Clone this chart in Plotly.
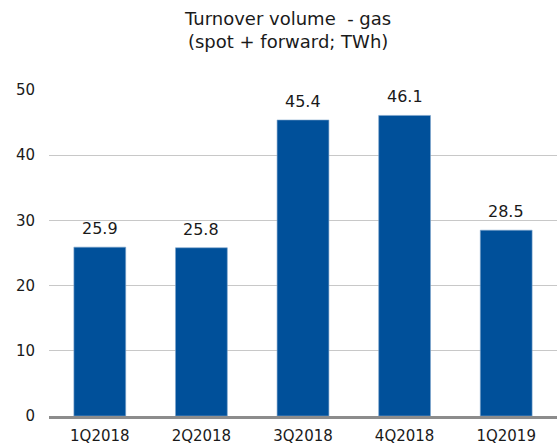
import plotly.graph_objects as go

quarters = ["1Q2018", "2Q2018", "3Q2018", "4Q2018", "1Q2019"]
volume_twh = [25.9, 25.8, 45.4, 46.1, 28.5]
value_labels = ["25.9", "25.8", "45.4", "46.1", "28.5"]

FONT = "DejaVu Sans, Verdana, sans-serif"

fig = go.Figure()
fig.add_trace(go.Bar(
    x=quarters, y=volume_twh,
    marker=dict(color="#00509a", line=dict(color="#7fa6cc", width=0.6)),
    hoverinfo="skip",
))

# value labels above the bars
for q, v, lbl in zip(quarters, volume_twh, value_labels):
    fig.add_annotation(x=q, y=v, text=lbl, showarrow=False,
                       yanchor="bottom", yshift=7,
                       font=dict(family=FONT, size=16, color="#1a1a1a"))

# two-line title, placed as an annotation above the plot
fig.add_annotation(
    text="Turnover volume  - gas<br>(spot + forward; TWh)",
    xref="paper", yref="paper", x=0.47, y=1.184,
    xanchor="center", yanchor="middle", showarrow=False,
    font=dict(family=FONT, size=18, color="#1a1a1a"),
)

fig.update_layout(
    width=557, height=448,
    margin=dict(l=49, r=0, t=90, b=32),
    paper_bgcolor="white", plot_bgcolor="white",
    bargap=0.49,
    showlegend=False,
    font=dict(family=FONT, size=14, color="#1a1a1a"),
)
fig.update_xaxes(
    showline=True, linecolor="#8c8c8c", linewidth=3,
    showgrid=False, ticks="", tickfont=dict(size=15),
    ticklabelstandoff=4,
)
fig.update_yaxes(
    range=[0, 50], dtick=10,
    showgrid=True, gridcolor="#c8c8c8", gridwidth=1,
    zeroline=False, showline=False, ticks="",
    ticklabelstandoff=13, tickfont=dict(size=15),
)

fig.write_html("out.html", config={"displayModeBar": False},
               post_script="document.body.style.margin='0';")
